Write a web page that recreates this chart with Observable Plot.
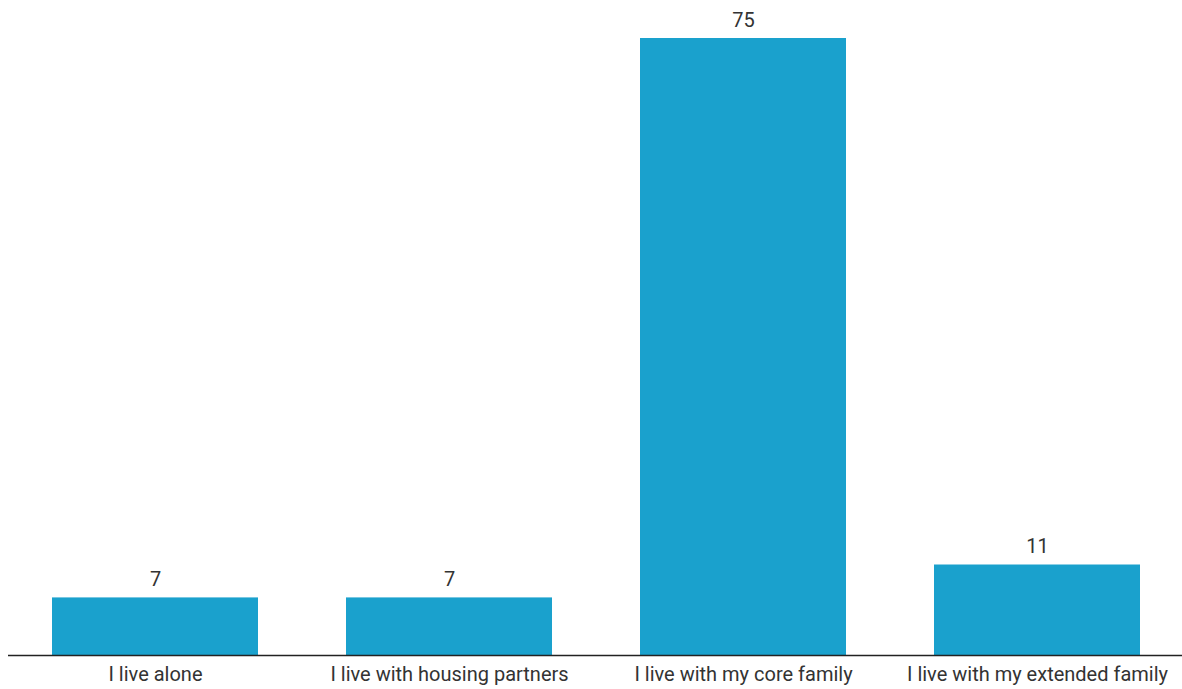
<!DOCTYPE html>
<html>
<head>
<meta charset="utf-8">
<script src="https://cdn.jsdelivr.net/npm/d3@7"></script>
<script src="https://cdn.jsdelivr.net/npm/@observablehq/plot@0.6"></script>
<style>
  html, body { margin: 0; padding: 0; background: #fff; }
  svg { display: block; }
</style>
</head>
<body>
<div id="chart"></div>
<script>
const categories = [
  "I live alone",
  "I live with housing partners",
  "I live with my core family",
  "I live with my extended family"
];
const values = [7, 7, 75, 11];

const data = categories.map((c, i) => ({category: c, value: values[i]}));

const chart = Plot.plot({
  width: 1182,
  height: 689,
  marginLeft: 8,
  marginRight: -2,
  marginTop: 38,
  marginBottom: 34,
  style: {fontFamily: "Roboto, sans-serif", fontSize: "20px", color: "#333", background: "#fff"},
  x: {domain: categories, paddingInner: 0.3, paddingOuter: 0.15, label: null, tickSize: 0, tickPadding: 11},
  y: {domain: [0, 75], axis: null},
  marks: [
    Plot.barY(data, {x: "category", y: "value", fill: "#1aa1cd"}),
    Plot.text(data, {x: "category", y: "value", text: d => String(d.value), lineAnchor: "bottom", dy: -12, fontSize: 20, fill: "#333"}),
    Plot.ruleY([0], {stroke: "#222", strokeWidth: 1.5})
  ]
});
document.getElementById("chart").appendChild(chart);
</script>
</body>
</html>
